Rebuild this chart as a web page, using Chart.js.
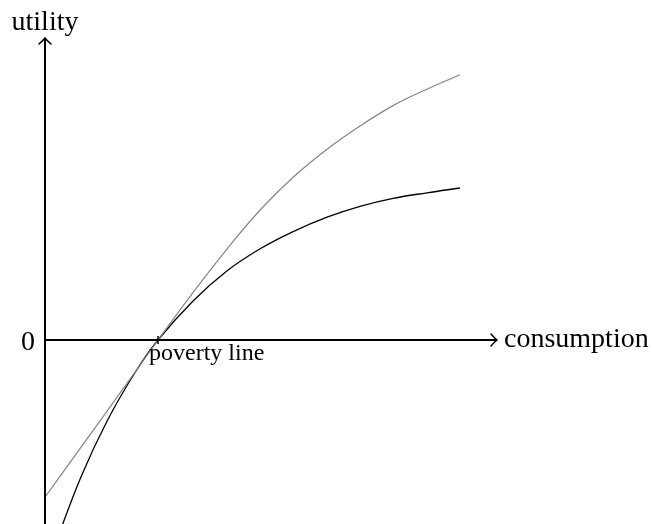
<!DOCTYPE html>
<html>
<head>
<meta charset="utf-8">
<script src="https://cdn.jsdelivr.net/npm/chart.js@4.4.0/dist/chart.umd.min.js"></script>
<style>
  html, body { margin: 0; padding: 0; background: #fff; }
  #wrap { width: 652px; height: 524px; position: relative; }
</style>
</head>
<body>
<div id="wrap"><canvas id="chart"></canvas></div>
<script>
// values (consumption on x, utility on y)
const grayConsumption = [0, 0.83, 1.67, 2.5, 3.27, 4.03, 4.76, 5.49, 6.24, 6.97, 7.70, 8.45, 9.18];
const grayUtility     = [-3.93, -2.63, -1.31, 0, 1.18, 2.28, 3.25, 4.07, 4.77, 5.35, 5.86, 6.27, 6.63];

const blackConsumption = [0.2, 0.8, 1.4, 2.0, 2.5, 3.27, 4.03, 4.76, 5.49, 6.24, 6.97, 7.70, 8.45, 9.18];
const blackUtility     = [-5.19, -3.41, -1.97, -0.80, 0, 0.97, 1.73, 2.28, 2.71, 3.07, 3.34, 3.54, 3.68, 3.80];

const povertyLine = 2.5;
const xLabel = "consumption";
const yLabel = "utility";
const zeroLabel = "0";
const povertyLabel = "poverty line";

function toPoints(xs, ys) {
  return xs.map((x, i) => ({ x: x, y: ys[i] }));
}

const serif = "'Liberation Serif', 'DejaVu Serif', serif";

// draws the two arrowed axes and the labels
const axesPlugin = {
  id: "axes",
  afterDatasetsDraw(chart) {
    const ctx = chart.ctx;
    const xs = chart.scales.x, ys = chart.scales.y;
    const x0 = xs.getPixelForValue(0);
    const y0 = ys.getPixelForValue(0);
    const top = chart.chartArea.top;
    const bottom = chart.chartArea.bottom;
    const right = chart.chartArea.right;

    ctx.save();
    ctx.strokeStyle = "#000";
    ctx.lineWidth = 2;
    ctx.lineCap = "butt";

    // y axis
    ctx.beginPath();
    ctx.moveTo(x0, bottom);
    ctx.lineTo(x0, top + 1);
    ctx.stroke();
    // x axis
    ctx.beginPath();
    ctx.moveTo(x0 - 1, y0);
    ctx.lineTo(right - 1, y0);
    ctx.stroke();

    // arrow heads
    ctx.lineWidth = 1.5;
    ctx.lineCap = "round";
    ctx.beginPath();
    ctx.moveTo(x0 - 6, top + 6);
    ctx.quadraticCurveTo(x0 - 1.5, top + 2, x0, top);
    ctx.quadraticCurveTo(x0 + 1.5, top + 2, x0 + 6, top + 6);
    ctx.stroke();
    ctx.beginPath();
    ctx.moveTo(right - 6, y0 - 6);
    ctx.quadraticCurveTo(right - 2, y0 - 1.5, right, y0);
    ctx.quadraticCurveTo(right - 2, y0 + 1.5, right - 6, y0 + 6);
    ctx.stroke();

    // poverty line tick
    const px = xs.getPixelForValue(povertyLine);
    ctx.lineWidth = 1.5;
    ctx.lineCap = "butt";
    ctx.beginPath();
    ctx.moveTo(px, y0 - 4);
    ctx.lineTo(px, y0 + 4);
    ctx.stroke();

    // labels
    ctx.fillStyle = "#000";
    ctx.textBaseline = "alphabetic";
    ctx.font = "28px " + serif;
    ctx.textAlign = "center";
    ctx.fillText(yLabel, x0, top - 8);
    ctx.textAlign = "left";
    ctx.fillText(xLabel, right + 7, y0 + 7);
    ctx.textAlign = "right";
    ctx.fillText(zeroLabel, x0 - 10, y0 + 10);
    ctx.font = "24px " + serif;
    ctx.textAlign = "left";
    ctx.fillText(povertyLabel, px - 9, y0 + 20);
    ctx.restore();
  }
};

new Chart(document.getElementById("chart"), {
  type: "line",
  data: {
    datasets: [
      {
        label: "gray",
        data: toPoints(grayConsumption, grayUtility),
        borderColor: "#858585",
        borderWidth: 1.2,
        pointRadius: 0,
        tension: 0.4,
        fill: false
      },
      {
        label: "black",
        data: toPoints(blackConsumption, blackUtility),
        borderColor: "#000",
        borderWidth: 1.3,
        pointRadius: 0,
        tension: 0.4,
        fill: false
      }
    ]
  },
  options: {
    responsive: true,
    maintainAspectRatio: false,
    animation: false,
    layout: { padding: { left: 45, right: 155, top: 38, bottom: 0 } },
    plugins: { legend: { display: false }, tooltip: { enabled: false } },
    scales: {
      x: { type: "linear", min: 0, max: 10, display: false },
      y: { type: "linear", min: -4.6, max: 7.55, display: false }
    }
  },
  plugins: [axesPlugin]
});
</script>
</body>
</html>
